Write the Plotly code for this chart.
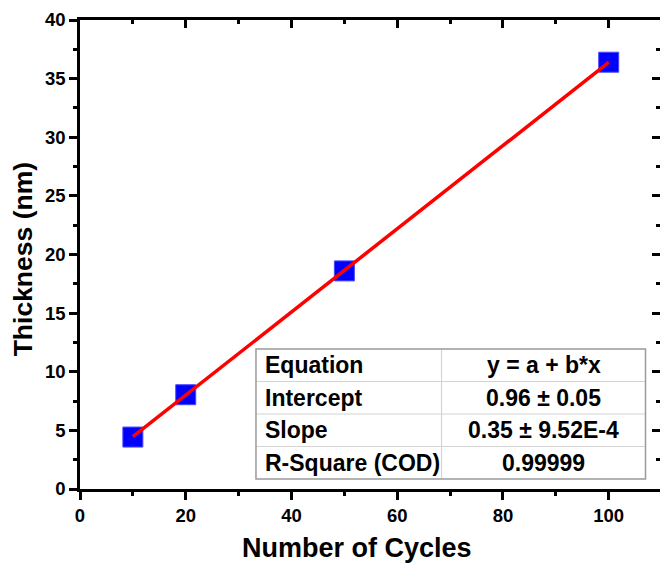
import plotly.graph_objects as go

# ---- data ----
cycles = [10, 20, 50, 100]
thickness = [4.43, 8.04, 18.6, 36.4]
fit_x = [10, 100]
fit_y = [4.46, 36.38]
x_ticks = [0, 20, 40, 60, 80, 100]
y_ticks = [0, 5, 10, 15, 20, 25, 30, 35, 40]
table_rows = [
    ("Equation", "y = a + b*x"),
    ("Intercept", "0.96 ± 0.05"),
    ("Slope", "0.35 ± 9.52E-4"),
    ("R-Square (COD)", "0.99999"),
]

FONT = "Liberation Sans"
LW = 2.5

fig = go.Figure()
fig.add_trace(go.Scatter(
    x=cycles, y=thickness, mode="markers",
    marker=dict(symbol="square", size=20, color="#0000FF",
                line=dict(color="#4a4aff", width=1)),
    showlegend=False, hoverinfo="skip"))
fig.add_trace(go.Scatter(
    x=fit_x, y=fit_y, mode="lines",
    line=dict(color="#FF0000", width=3.5),
    showlegend=False, hoverinfo="skip"))

XR = [0, 109.7]
YR = [0, 40]
tickfont = dict(family=FONT, size=18.5, color="black", weight=700)

fig.update_layout(
    width=660, height=563,
    margin=dict(l=80, r=0, t=20, b=74),
    plot_bgcolor="white", paper_bgcolor="white",
    font=dict(family=FONT, color="black", weight=700),
    xaxis=dict(range=XR, tickvals=x_ticks,
               ticktext=[f"<b>{v}</b>" for v in x_ticks],
               ticks="outside", ticklen=8,
               tickwidth=LW, tickcolor="black", showline=True, linewidth=LW,
               linecolor="black", showgrid=False, zeroline=False,
               tickfont=tickfont,
               minor=dict(dtick=10, tick0=0, ticks="outside", ticklen=4,
                          tickwidth=LW, tickcolor="black", showgrid=False)),
    yaxis=dict(range=YR, tickvals=y_ticks,
               ticktext=[f"<b>{v}</b>" for v in y_ticks],
               ticks="outside", ticklen=8,
               tickwidth=LW, tickcolor="black", showline=True, linewidth=LW,
               linecolor="black", showgrid=False, zeroline=False,
               tickfont=tickfont,
               minor=dict(dtick=2.5, tick0=0, ticks="outside", ticklen=4,
                          tickwidth=LW, tickcolor="black", showgrid=False)),
    xaxis2=dict(range=XR, overlaying="x", side="top", anchor="y",
                tickvals=x_ticks, ticks="inside", ticklen=8, tickwidth=LW,
                tickcolor="black", showline=True, linewidth=LW,
                linecolor="black", showgrid=False, zeroline=False,
                showticklabels=False,
                minor=dict(dtick=10, tick0=0, ticks="inside", ticklen=4,
                           tickwidth=LW, tickcolor="black", showgrid=False)),
    yaxis2=dict(range=YR, overlaying="y", side="right", anchor="x",
                tickvals=y_ticks, ticks="inside", ticklen=8, tickwidth=LW,
                tickcolor="black", showline=False, showgrid=False,
                zeroline=False, showticklabels=False,
                minor=dict(dtick=2.5, tick0=0, ticks="inside", ticklen=4,
                           tickwidth=LW, tickcolor="black", showgrid=False)),
)
# invisible trace to activate the mirror axes
fig.add_trace(go.Scatter(x=[None], y=[None], xaxis="x2", yaxis="y2",
                         showlegend=False, hoverinfo="skip"))

# axis titles
titlefont = dict(family=FONT, size=27, color="black", weight=700)
fig.add_annotation(text="<b>Number of Cycles</b>", xref="paper", yref="paper",
                   x=0.4776, y=-0.126, xanchor="center", yanchor="middle",
                   showarrow=False, font=titlefont)
fig.add_annotation(text="<b>Thickness (nm)</b>", xref="paper", yref="paper",
                   x=-0.098, y=0.490, xanchor="center", yanchor="middle",
                   textangle=-90, showarrow=False,
                   font=dict(family=FONT, size=26.5, color="black", weight=700))

# fit-result table (paper coordinates)
tx0, tx1, tx2 = 0.3034, 0.6233, 0.975
ty_top, ty_bot = 0.2985, 0.0213
n = len(table_rows)
rh = (ty_top - ty_bot) / n
for i in range(1, n):
    yy = ty_top - i * rh
    fig.add_shape(type="line", xref="paper", yref="paper", x0=tx0, x1=tx2,
                  y0=yy, y1=yy, line=dict(color="#d4d4d4", width=1.2))
fig.add_shape(type="line", xref="paper", yref="paper", x0=tx1, x1=tx1,
              y0=ty_bot, y1=ty_top, line=dict(color="#d4d4d4", width=1.2))
fig.add_shape(type="rect", xref="paper", yref="paper", x0=tx0, x1=tx2,
              y0=ty_bot, y1=ty_top, line=dict(color="#9a9a9a", width=1.5))
cellfont = dict(family=FONT, size=23, color="black", weight=700)
for i, (k, v) in enumerate(table_rows):
    yc = ty_top - (i + 0.5) * rh
    fig.add_annotation(text=f"<b>{k}</b>", xref="paper", yref="paper",
                       x=0.3155, y=yc, xanchor="left", yanchor="middle",
                       showarrow=False, font=cellfont)
    fig.add_annotation(text=f"<b>{v}</b>", xref="paper", yref="paper",
                       x=(tx1 + tx2) / 2, y=yc, xanchor="center",
                       yanchor="middle", showarrow=False, font=cellfont)

fig.write_html("out.html")
